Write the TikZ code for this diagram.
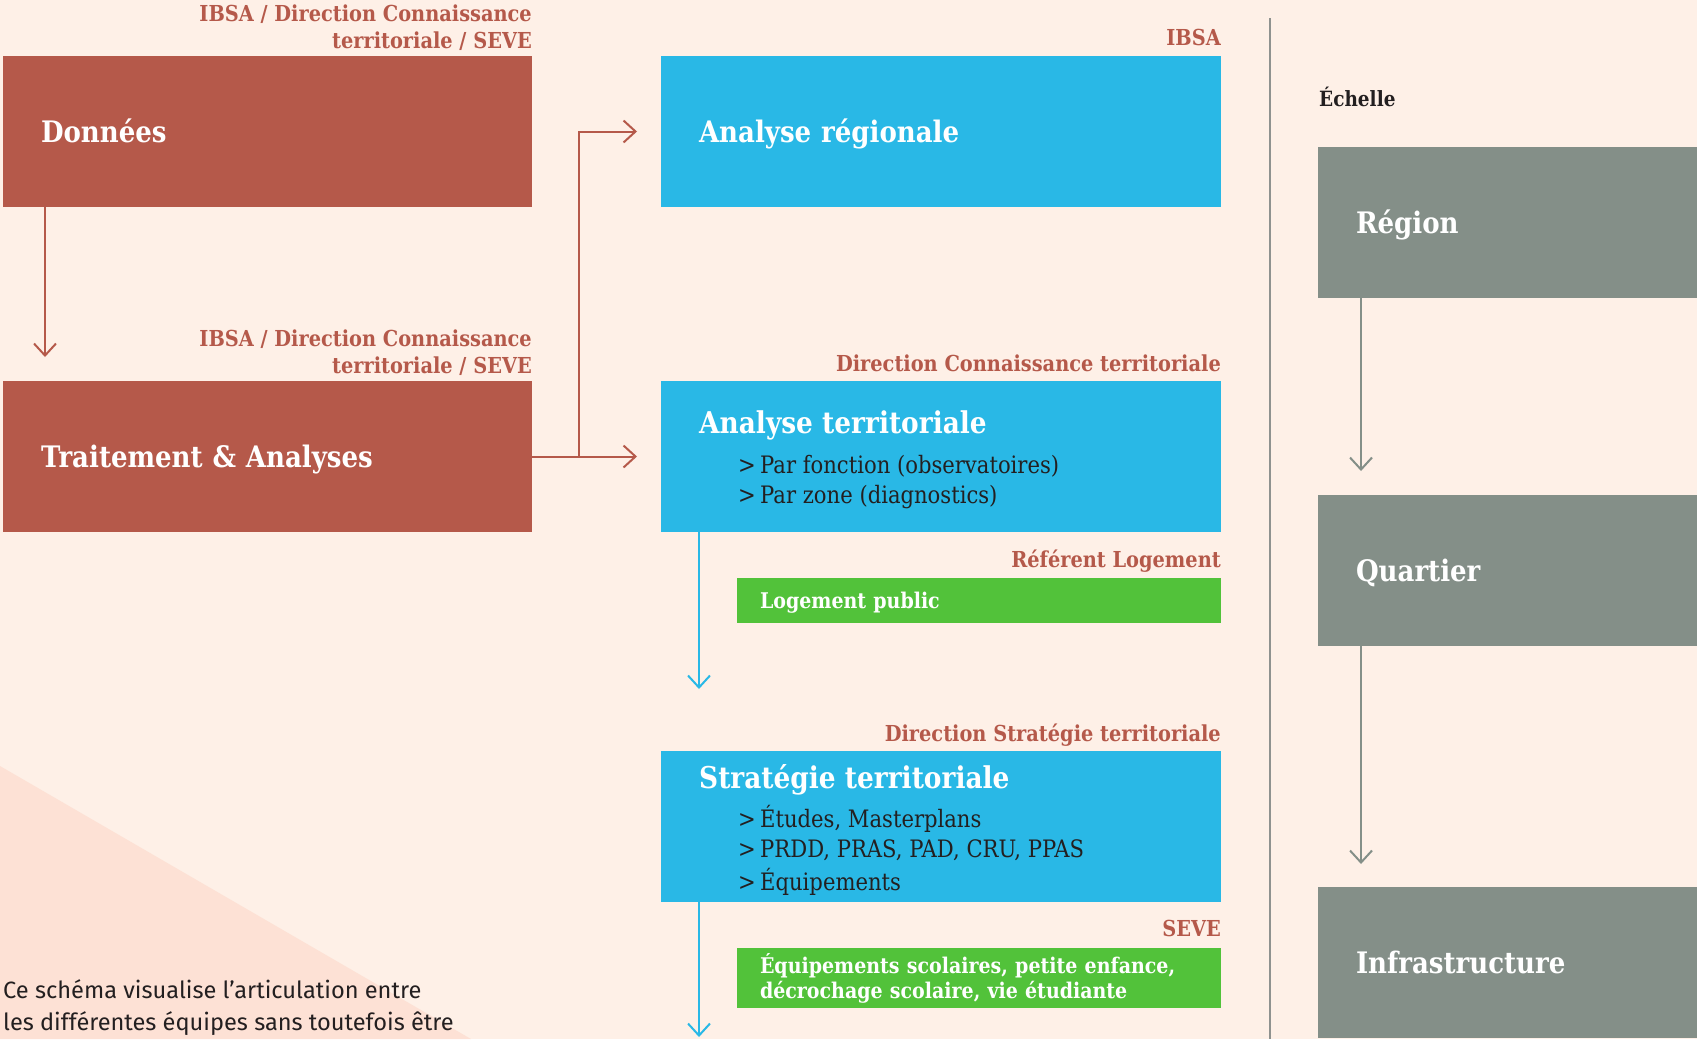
\documentclass[tikz,border=0pt]{standalone}
\usepackage{fontspec}
\setmainfont{DejaVu Serif}[FakeStretch=0.88]
\newfontfamily\notefont{Fira Sans}
\usetikzlibrary{arrows.meta}

\definecolor{paper}{HTML}{FEF0E7}
\definecolor{blush}{HTML}{FDE1D5}
\definecolor{brick}{HTML}{B5594A}
\definecolor{sky}{HTML}{29B8E6}
\definecolor{leaf}{HTML}{52C23A}
\definecolor{sage}{HTML}{848F88}
\definecolor{rulegray}{HTML}{8F928F}
\definecolor{ink}{HTML}{231F20}

\newcommand\chev{\makebox[22pt][l]{>}}

\tikzset{
  tile/.style={anchor=north west, inner sep=0pt, inner xsep=38pt, outer sep=0pt,
    minimum height=151pt, align=left, text=white,
    font=\bfseries\fontsize{29.6}{34}\selectfont, text height=22pt, text depth=0pt},
  brickbox/.style={tile, fill=brick, minimum width=529pt, text width=453pt},
  skybox/.style={tile, fill=sky, minimum width=560pt, text width=484pt},
  sagebox/.style={tile, fill=sage, minimum width=379pt, text width=303pt},
  leafbox/.style={anchor=north west, inner ysep=0pt, inner xsep=23pt, outer sep=0pt,
    fill=leaf, minimum width=484pt, text width=438pt, align=left, text=white,
    font=\bfseries\fontsize{21.6}{25}\selectfont},
  owner/.style={anchor=base east, align=right, text=brick, inner sep=0pt,
    font=\bfseries\fontsize{22}{27}\selectfont},
  boxtitle/.style={anchor=base west, inner sep=0pt, text=white,
    font=\bfseries\fontsize{30}{34}\selectfont},
  pointitem/.style={anchor=base west, inner sep=0pt, text=ink,
    font=\fontsize{24}{28}\selectfont},
  flow/.style={line width=2pt, -{Straight Barb[length=12pt,width=22pt]}},
}

\begin{document}
\begin{tikzpicture}[x=1pt,y=-1pt]
\fill[paper] (0,0) rectangle (1697,1039);
\useasboundingbox (0,0) rectangle (1697,1039);
\fill[blush] (0,766) -- (471,1039) -- (0,1039) -- cycle;
\draw[rulegray, line width=2.5pt] (1270,18) -- (1270,1039);

\node[brickbox] (don) at (3,56) {Données};
\node[brickbox] (trt) at (3,381) {Traitement \& Analyses};
\node[skybox] (reg) at (661,56) {Analyse régionale};
\node[skybox] (terr) at (661,381) {};
\node[leafbox, minimum height=45pt, text height=15pt, text depth=0pt] (loge) at (737,578) {Logement public};
\node[skybox] (strat) at (661,751) {};
\node[leafbox, minimum height=60pt] (equip) at (737,948) {Équipements scolaires, petite enfance,\\décrochage scolaire, vie étudiante};
\node[sagebox] (regn) at (1318,147) {Région};
\node[sagebox] (quart) at (1318,495) {Quartier};
\node[sagebox] (infra) at (1318,887) {Infrastructure};

\node[owner] (donsrc) at (532,48) {IBSA / Direction Connaissance\\territoriale / SEVE};
\node[owner] (trtsrc) at (532,373) {IBSA / Direction Connaissance\\territoriale / SEVE};
\node[owner] (regsrc) at (1221,45) {IBSA};
\node[owner] (terrsrc) at (1221,371) {Direction Connaissance territoriale};
\node[owner] (logesrc) at (1221,567) {Référent Logement};
\node[owner] (stratsrc) at (1221,741) {Direction Stratégie territoriale};
\node[owner] (equipsrc) at (1221,936) {SEVE};
\node[owner, anchor=base west, text=ink, font=\bfseries\fontsize{21}{26}\selectfont] (scale) at (1319,106) {Échelle};

\node[boxtitle] (terrtitle) at (699,433) {Analyse territoriale};
\node[pointitem] (terra) at (738,473) {\chev Par fonction (observatoires)};
\node[pointitem] (terrb) at (738,503) {\chev Par zone (diagnostics)};
\node[boxtitle] (strattitle) at (699,788) {Stratégie territoriale};
\node[pointitem] (strata) at (738,827) {\chev Études, Masterplans};
\node[pointitem] (stratb) at (738,857) {\chev PRDD, PRAS, PAD, CRU, PPAS};
\node[pointitem] (stratc) at (738,890) {\chev Équipements};

\node[anchor=base west, inner sep=0pt, text=ink, align=left,
  font=\notefont\fontsize{23.6}{32}\selectfont] (note) at (3,1030)
  {Ce schéma visualise l’articulation entre\\les différentes équipes sans toutefois être};

\coordinate (fork) at ([xshift=47pt]trt.east);
\coordinate (terrend) at (699,689);
\coordinate (stratend) at (699,1037);
\draw[flow, brick, shorten >=24pt] ([xshift=42pt]don.south west) -- ([xshift=42pt]trt.north west);
\draw[flow, brick, shorten >=24pt] (trt.east) -- (terr.west);
\draw[flow, brick, shorten >=24pt] (fork) |- (reg.west);
\draw[flow, sky] ([xshift=38pt]terr.south west) -- (terrend);
\draw[flow, sky] ([xshift=38pt]strat.south west) -- (stratend);
\draw[flow, sage, shorten >=24pt] ([xshift=43pt]regn.south west) -- ([xshift=43pt]quart.north west);
\draw[flow, sage, shorten >=23pt] ([xshift=43pt]quart.south west) -- ([xshift=43pt]infra.north west);
\end{tikzpicture}
\end{document}
